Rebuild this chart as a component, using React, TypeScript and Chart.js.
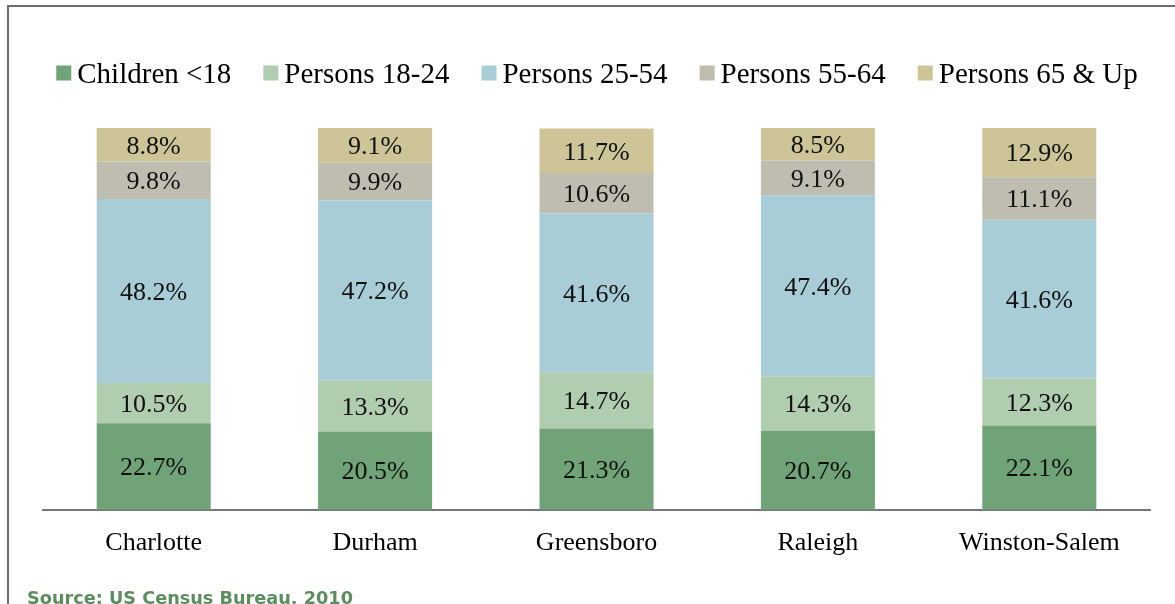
import React, { useEffect, useRef } from "react";
import { Chart, registerables } from "chart.js";

Chart.register(...registerables);

const cities = ["Charlotte", "Durham", "Greensboro", "Raleigh", "Winston-Salem"];
const seriesNames = ["Children <18", "Persons 18-24", "Persons 25-54", "Persons 55-64", "Persons 65 & Up"];
const children = [22.7, 20.5, 21.3, 20.7, 22.1];
const persons1824 = [10.5, 13.3, 14.7, 14.3, 12.3];
const persons2554 = [48.2, 47.2, 41.6, 47.4, 41.6];
const persons5564 = [9.8, 9.9, 10.6, 9.1, 11.1];
const persons65 = [8.8, 9.1, 11.7, 8.5, 12.9];
const seriesColors = ["#70a377", "#b0cdb0", "#a8cdd7", "#bfbdb0", "#cdc597"];
const sourceText = "Source: US Census Bureau, 2010";

const SERIF = "'Liberation Serif', 'Times New Roman', serif";

const labelPlugin = {
  id: "segLabels",
  afterDatasetsDraw(chart: any) {
    const ctx = chart.ctx;
    ctx.save();
    ctx.font = `26px ${SERIF}`;
    ctx.fillStyle = "#111";
    ctx.textAlign = "center";
    ctx.textBaseline = "middle";
    chart.data.datasets.forEach((ds: any, i: number) => {
      const meta = chart.getDatasetMeta(i);
      meta.data.forEach((el: any, j: number) => {
        const v = ds.data[j];
        const cy = (el.y + el.base) / 2;
        ctx.fillText(v.toFixed(1) + "%", el.x, cy + 2);
      });
    });
    ctx.restore();
  },
};

const legendPlugin = {
  id: "customLegend",
  afterDraw(chart: any) {
    const ctx = chart.ctx;
    ctx.save();
    ctx.font = `29px ${SERIF}`;
    const box = 15;
    const gapText = 6;
    const gapItem = 32;
    const widths = chart.data.datasets.map((ds: any) => box + gapText + ctx.measureText(ds.label).width);
    const total = widths.reduce((a: number, b: number) => a + b, 0) + gapItem * (widths.length - 1);
    let x = 597 - total / 2;
    const y = 74;
    ctx.textBaseline = "middle";
    ctx.textAlign = "left";
    chart.data.datasets.forEach((ds: any, i: number) => {
      ctx.fillStyle = ds.backgroundColor;
      ctx.fillRect(x, y - box / 2 - 1, box, box);
      ctx.fillStyle = "#000";
      ctx.fillText(ds.label, x + box + gapText, y + 1);
      x += widths[i] + gapItem;
    });
    ctx.restore();
  },
};

export default function App() {
  const ref = useRef<HTMLCanvasElement>(null);
  useEffect(() => {
    if (!ref.current) return;
    const values = [children, persons1824, persons2554, persons5564, persons65];
    const chart = new Chart(ref.current, {
      type: "bar",
      data: {
        labels: cities,
        datasets: values.map((d, i) => ({
          label: seriesNames[i],
          data: d,
          backgroundColor: seriesColors[i],
          borderWidth: 0,
          categoryPercentage: 1,
          barPercentage: 0.515,
        })),
      },
      options: {
        animation: false,
        responsive: false,
        layout: { padding: { left: 43, right: 25, top: 128, bottom: 27 } },
        plugins: { legend: { display: false }, tooltip: { enabled: false } },
        scales: {
          x: {
            stacked: true,
            grid: { display: false, drawTicks: false },
            border: { display: true, color: "#777", width: 2 },
            ticks: { color: "#000", font: { family: SERIF, size: 26 }, padding: 18 },
          },
          y: {
            stacked: true,
            display: false,
            min: 0,
            max: 100,
          },
        },
      },
      plugins: [labelPlugin, legendPlugin],
    });
    return () => chart.destroy();
  }, []);
  return (
    <div style={{ position: "fixed", left: 0, top: 0, width: 1175, height: 604, overflow: "hidden", background: "#fff" }}>
      <div style={{ position: "absolute", left: 7, top: 5, width: 1300, height: 800, border: "2px solid #6d6d6d" }} />
      <canvas ref={ref} width={1175} height={604} style={{ position: "absolute", left: 0, top: 0 }} />
      <div
        style={{
          position: "absolute",
          left: 27,
          top: 587,
          fontFamily: "'DejaVu Sans', sans-serif",
          fontWeight: 700,
          fontSize: 17.7,
          color: "#5b8d5f",
          whiteSpace: "nowrap",
          lineHeight: "22px",
        }}
      >
        {sourceText}
      </div>
    </div>
  );
}
